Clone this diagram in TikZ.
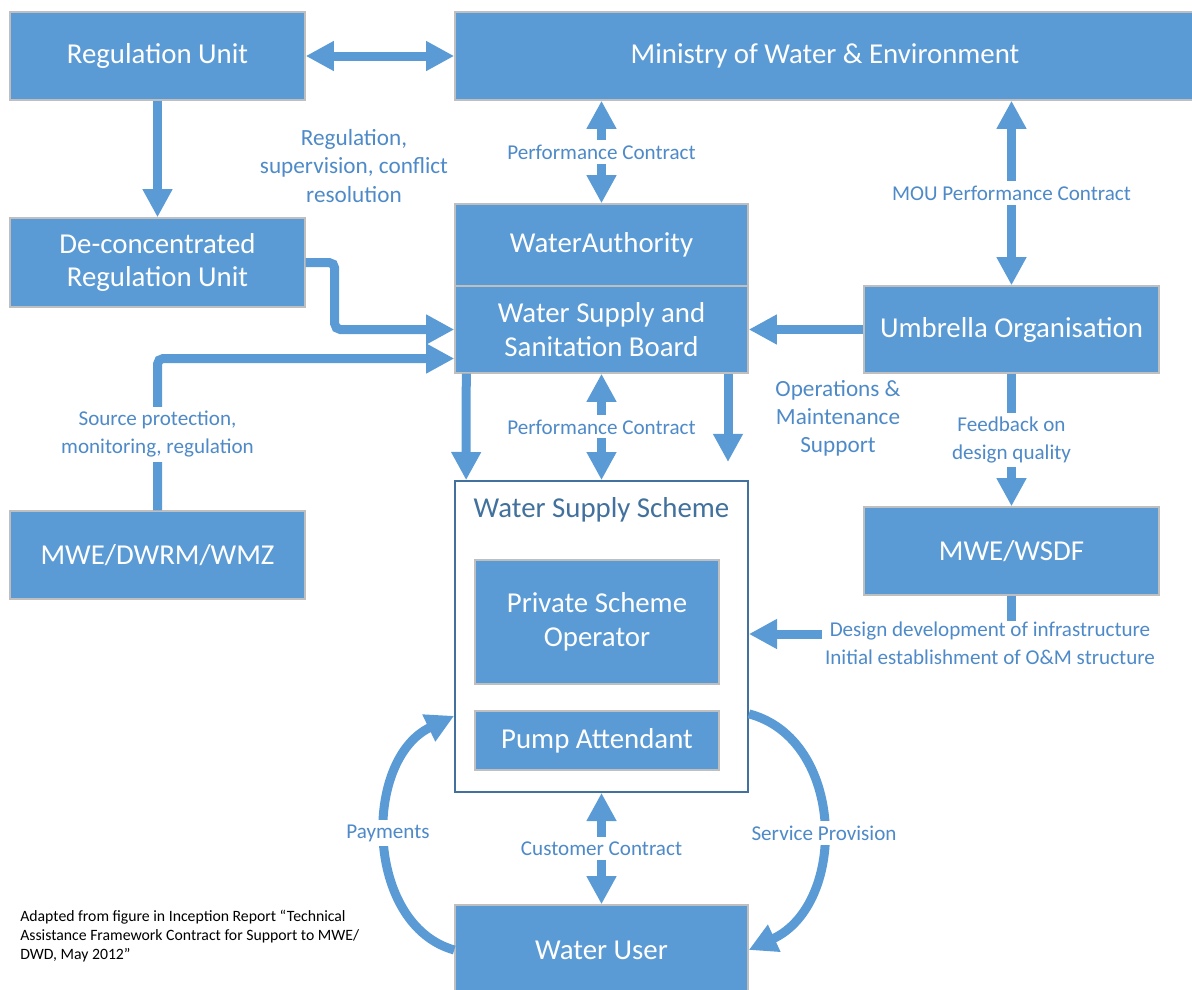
\documentclass[tikz,border=0pt]{standalone}
\usepackage{fontspec}
\setmainfont{Carlito}
\usetikzlibrary{arrows.meta,positioning}
\definecolor{mweblue}{HTML}{5B9BD5}
\definecolor{mweedge}{HTML}{BFBFBF}
\definecolor{mwetext}{HTML}{4E8AC8}
\definecolor{mwedark}{HTML}{41719C}
\tikzset{
  unit/.style={fill=mweblue, draw=mweedge, line width=1pt, text=white, align=center,
    font=\fontsize{20.5}{24}\selectfont, inner sep=0pt,
    minimum width=7.375cm, minimum height=2.2cm},
  lbl/.style={text=mwetext, fill=white, align=center, inner xsep=2pt, inner ysep=3pt,
    font=\fontsize{15}{20}\selectfont},
  biglbl/.style={lbl, fill=none, font=\fontsize{16.5}{20}\selectfont},
  flow/.style={draw=mweblue, line width=6.4pt, -{Triangle[width=20pt,length=20pt]}},
  twoway/.style={flow, {Triangle[width=20pt,length=20pt]}-{Triangle[width=20pt,length=20pt]}},
}
\begin{document}
\begin{tikzpicture}[x=0.025cm, y=-0.025cm]
  \useasboundingbox (0,0) rectangle (1192,989);
  % top row
  \node[unit] (reg) at (157.5,56) {Regulation Unit};
  \node[unit, minimum width=18.5cm] (min) at (825,56) {Ministry of Water \& Environment};
  \node[unit, minimum height=2.225cm] (dcr) at (157.5,262.5) {De-concentrated\\Regulation Unit};
  % water authority and board
  \node[unit, minimum width=7.325cm, minimum height=2.05cm] (wa) at (601.5,245) {WaterAuthority};
  \node[unit, minimum width=7.325cm, minimum height=2.175cm] (wssb) at (601.5,329.5) {Water Supply and\\Sanitation Board};
  \node[unit, minimum height=2.175cm] (umb) at (1011.5,329.5) {Umbrella Organisation};
  \node[unit] (dwrm) at (157.5,555) {MWE/DWRM/WMZ};
  \node[unit] (wsdf) at (1011.5,551) {MWE/WSDF};
  % scheme frame
  \node[draw=mwedark, line width=1.2pt, fill=white, minimum width=7.325cm,
    minimum height=7.775cm] (scheme) at (601.5,636.5) {};
  \node[text=mwedark, font=\fontsize{20.5}{24}\selectfont] (title) at (601.5,510) {Water Supply Scheme};
  \node[unit, minimum width=6.1cm, minimum height=3.1cm] (pso) at (597,622) {Private Scheme\\Operator};
  \node[unit, minimum width=6.1cm, minimum height=1.475cm] (pump) at (597,740.5) {Pump Attendant};
  \node[unit, minimum width=7.325cm, minimum height=2.25cm] (wu) at (601.5,950) {Water User};

  \draw[twoway] (reg.east) -- (min.west);
  \draw[flow] (reg.south) -- (dcr.north);
  \node[biglbl] (rsc) at (354,166) {Regulation,\\supervision, conflict\\resolution};
  \draw[twoway] (min.south -| wa.north) -- node[lbl] {Performance Contract} (wa.north);
  \draw[twoway] (min.south -| umb.north) -- node[lbl] {MOU Performance Contract} (umb.north);

  \draw[flow, rounded corners=4pt] (dcr.east) -- ++(29,0) |- (wssb.west);
  \draw[flow, rounded corners=4pt] (dwrm.north) |- node[lbl, pos=0.25] {Source protection,\\monitoring, regulation} ([yshift=-0.725cm]wssb.west);
  \draw[flow] (umb.west) -- (wssb.east);

  % board to scheme
  \coordinate (omtip) at (728,462);
  \draw[flow] ([xshift=0.3cm]wssb.south west) -- ([xshift=0.3cm]scheme.north west);
  \draw[twoway] (wssb.south) -- node[lbl] {Performance Contract} (scheme.north);
  \draw[flow] (wssb.south east -| omtip) -- (omtip);
  \node[biglbl] (omlbl) at (838,418) {Operations \&\\Maintenance\\Support};

  \draw[flow] (umb.south) -- node[lbl] {Feedback on\\design quality} (wsdf.north);
  \node[lbl, fill=none, inner ysep=0pt] (ddlbl) at (990,643) {Design development of infrastructure\\Initial establishment of O\&M structure};
  \draw[mweblue, line width=6.4pt] (wsdf.south) -- (wsdf.south |- ddlbl.north);
  \draw[flow] ([yshift=0.225cm]ddlbl.west) -- ([yshift=0.225cm]ddlbl.west -| scheme.east);

  % user loop
  \draw[twoway] (scheme.south) -- node[lbl] {Customer Contract} (wu.north);
  \draw[flow] (wu.west) .. controls (365,925) and (362,760) .. ([yshift=1.925cm]scheme.south west);
  \draw[flow] ([yshift=1.975cm]scheme.south east) .. controls (845,739) and (848,904) .. (wu.east);
  \node[lbl] (pay) at (388,833) {Payments};
  \node[lbl] (serv) at (824,833) {Service Provision};

  \node[anchor=north west, align=left, inner sep=0pt, font=\fontsize{11.2}{13.5}\selectfont] (src) at (20,910)
    {Adapted from figure in Inception Report “Technical\\Assistance Framework Contract for Support to MWE/\\DWD, May 2012”};
\end{tikzpicture}
\end{document}
